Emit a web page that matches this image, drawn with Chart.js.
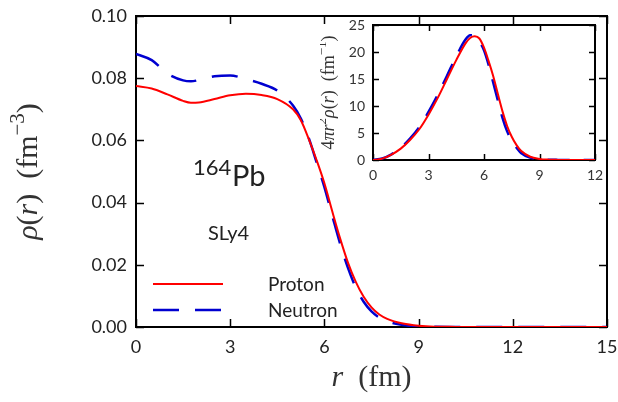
<!DOCTYPE html>
<html>
<head>
<meta charset="utf-8">
<script src="https://cdn.jsdelivr.net/npm/chart.js@4"></script>
<style>
body{margin:0;background:#fff;}
#wrap{position:relative;width:618px;height:402px;}
#main{position:absolute;left:0;top:0;}
#inset{position:absolute;left:320px;top:8px;}
</style>
</head>
<body>
<div id="wrap">
<canvas id="main" width="618" height="402"></canvas>
<canvas id="inset" width="290" height="190"></canvas>
</div>
<script>
// radial grid (fm) and densities
const rMain = [0,0.5,1,1.5,1.75,2,2.5,3,3.5,4,4.5,5,5.25,5.5,5.75,6,6.25,6.5,6.75,7,7.25,7.5,7.75,8,8.5,9,9.5,10,11,12,13,14,15];
const protonRho = [0.0775,0.0767,0.0748,0.0727,0.0721,0.0722,0.0733,0.0745,0.0750,0.0746,0.0733,0.0700,0.0665,0.0605,0.0537,0.0462,0.0372,0.0285,0.0207,0.0145,0.0097,0.0063,0.0040,0.0026,0.0011,0.0004,0.0001,0.00005,0,0,0,0,0];
const neutronRho = [0.0878,0.0858,0.0815,0.0793,0.0790,0.0794,0.0806,0.0809,0.0797,0.0782,0.0760,0.0712,0.0670,0.0608,0.0530,0.0450,0.0358,0.0268,0.0190,0.0127,0.0081,0.0050,0.0030,0.0018,0.0006,0.0002,0.00005,0,0,0,0,0,0];

// inset: 4 pi r^2 rho(r)
const rInset = [0,0.5,1,1.5,2,2.5,3,3.5,4,4.5,5,5.25,5.5,5.75,6,6.25,6.5,6.75,7,7.25,7.5,7.75,8,8.5,9,9.5,10,11,12];
const protonInset = [0,0.25,1.0,2.1,3.7,5.7,8.4,11.5,15.0,18.5,21.6,22.6,22.9,22.5,20.8,18.3,15.5,12.2,9.0,6.3,4.3,2.8,1.7,0.6,0.2,0.06,0.02,0,0];
const neutronInset = [0,0.27,1.05,2.25,3.95,6.1,8.9,12.1,15.6,19.2,22.3,23.1,22.9,21.9,20.3,17.6,14.3,11.0,7.8,5.3,3.6,2.3,1.3,0.45,0.15,0.05,0.02,0,0];

const seriesNames = ["Proton","Neutron"];
const nucleusMass = "164";
const nucleusName = "Pb";
const forceName = "SLy4";

// axis titles as [text, style] pieces: i = italic, n = upright, s = superscript
const xTitle = [["r","i"],["  (fm)","n"]];
const yTitle = [["ρ","i"],["(","n"],["r","i"],[")  (fm","n"],["−3","s"],[")","n"]];
const insetTitle = [["4","n"],["πr","i"],["2","s"],["ρ","i"],["(","n"],["r","i"],[")  (fm","n"],["−1","s"],[")","n"]];

const RED = "#ff0000";
const BLUE = "#0000d0";
const tickFont = "Lato";
const mathFont = "'Liberation Serif'";

function pts(xs, ys){
  return xs.map((x,i)=>({x:x,y:ys[i]}));
}

function segFont(style, size){
  if(style === "i") return "italic " + size + "px " + mathFont;
  if(style === "s") return Math.round(size*0.7) + "px " + mathFont;
  return size + "px " + mathFont;
}

// draws a math-like label centred on (cx, baseline cy), optionally rotated
function drawMath(ctx, segs, size, cx, cy, rot){
  ctx.save();
  let w = 0;
  segs.forEach(([t,s])=>{ ctx.font = segFont(s,size); w += ctx.measureText(t).width; });
  ctx.translate(cx, cy);
  ctx.rotate(rot);
  ctx.fillStyle = "#333";
  ctx.textBaseline = "alphabetic";
  let x = -w/2;
  segs.forEach(([t,s])=>{
    ctx.font = segFont(s,size);
    ctx.fillText(t, x, s === "s" ? -size*0.42 : 0);
    x += ctx.measureText(t).width;
  });
  ctx.restore();
}

function noPad(s){
  s.paddingLeft = 0; s.paddingRight = 0; s.paddingTop = 0; s.paddingBottom = 0;
}

// frame and inward ticks on all four sides
const frameTicks = {
  id:"frameTicks",
  beforeDatasetsDraw(chart, args, opts){
    const {ctx, chartArea:a, scales} = chart;
    const len = opts.len;
    ctx.save();
    ctx.strokeStyle = "#000";
    ctx.lineWidth = 1.5;
    ctx.beginPath();
    scales.x.ticks.forEach(t=>{
      const px = Math.round(scales.x.getPixelForValue(t.value)) + 0.5;
      ctx.moveTo(px, a.bottom); ctx.lineTo(px, a.bottom - len);
      ctx.moveTo(px, a.top); ctx.lineTo(px, a.top + len);
    });
    scales.y.ticks.forEach(t=>{
      const py = Math.round(scales.y.getPixelForValue(t.value)) + 0.5;
      ctx.moveTo(a.left, py); ctx.lineTo(a.left + len, py);
      ctx.moveTo(a.right, py); ctx.lineTo(a.right - len, py);
    });
    ctx.stroke();
    ctx.lineWidth = 2;
    ctx.strokeRect(a.left, a.top, a.right - a.left, a.bottom - a.top);
    ctx.restore();
  }
};

// nucleus label, force name, legend and axis titles of the main plot
const mainNotes = {
  id:"mainNotes",
  afterDraw(chart){
    const {ctx, chartArea:a} = chart;
    ctx.save();
    ctx.fillStyle = "#222";
    ctx.textBaseline = "alphabetic";
    ctx.font = "22px " + tickFont;
    ctx.fillText(nucleusMass, 193, 175);
    ctx.font = "29px " + tickFont;
    ctx.fillText(nucleusName, 232, 186);
    ctx.font = "20px " + tickFont;
    ctx.fillText(forceName, 208, 240);

    const rows = [[284, 0], [310, 1]];
    rows.forEach(([y, i])=>{
      const ds = chart.data.datasets[i];
      ctx.strokeStyle = ds.borderColor;
      ctx.lineWidth = ds.borderWidth;
      ctx.setLineDash(ds.borderDash || []);
      ctx.beginPath();
      ctx.moveTo(153, y);
      ctx.lineTo(223, y);
      ctx.stroke();
      ctx.setLineDash([]);
      ctx.fillStyle = "#222";
      ctx.font = "19px " + tickFont;
      ctx.textBaseline = "middle";
      ctx.fillText(ds.label, 268, y + 1);
    });
    ctx.restore();

    drawMath(ctx, xTitle, 30, (a.left + a.right)/2, 386, 0);
    drawMath(ctx, yTitle, 30, 37, (a.top + a.bottom)/2, -Math.PI/2);
  }
};

const insetNotes = {
  id:"insetNotes",
  afterDraw(chart){
    const a = chart.chartArea;
    drawMath(chart.ctx, insetTitle, 18, 14, (a.top + a.bottom)/2, -Math.PI/2);
  }
};

new Chart(document.getElementById("main"), {
  type:"line",
  data:{
    datasets:[
      {label:seriesNames[0], data:pts(rMain, protonRho), borderColor:RED, borderWidth:2, pointRadius:0, cubicInterpolationMode:"monotone"},
      {label:seriesNames[1], data:pts(rMain, neutronRho), borderColor:BLUE, borderWidth:2.5, borderDash:[26,16], pointRadius:0, cubicInterpolationMode:"monotone"}
    ]
  },
  options:{
    responsive:false,
    animation:false,
    events:[],
    layout:{padding:{top:16, right:11, left:0, bottom:0}},
    plugins:{
      legend:{display:false},
      tooltip:{enabled:false},
      frameTicks:{len:8}
    },
    scales:{
      x:{
        type:"linear", min:0, max:15,
        grid:{display:false, drawTicks:false},
        border:{display:false},
        ticks:{stepSize:3, padding:9, color:"#222", font:{family:tickFont, size:18}},
        afterFit(s){ s.height = 75; noPad(s); }
      },
      y:{
        type:"linear", min:0, max:0.1,
        grid:{display:false, drawTicks:false},
        border:{display:false},
        ticks:{stepSize:0.02, padding:9, color:"#222", font:{family:tickFont, size:18}, callback:v=>v.toFixed(2)},
        afterFit(s){ s.width = 136; noPad(s); }
      }
    }
  },
  plugins:[frameTicks, mainNotes]
});

new Chart(document.getElementById("inset"), {
  type:"line",
  data:{
    datasets:[
      {label:seriesNames[0], data:pts(rInset, protonInset), borderColor:RED, borderWidth:2, pointRadius:0, cubicInterpolationMode:"monotone"},
      {label:seriesNames[1], data:pts(rInset, neutronInset), borderColor:BLUE, borderWidth:2.5, borderDash:[22,14], pointRadius:0, cubicInterpolationMode:"monotone"}
    ]
  },
  options:{
    responsive:false,
    animation:false,
    events:[],
    layout:{padding:{top:17, right:15, left:0, bottom:0}},
    plugins:{
      legend:{display:false},
      tooltip:{enabled:false},
      frameTicks:{len:6}
    },
    scales:{
      x:{
        type:"linear", min:0, max:12,
        grid:{display:false, drawTicks:false},
        border:{display:false},
        ticks:{stepSize:3, padding:7, color:"#333", font:{family:tickFont, size:14}},
        afterFit(s){ s.height = 38; noPad(s); }
      },
      y:{
        type:"linear", min:0, max:25,
        grid:{display:false, drawTicks:false},
        border:{display:false},
        ticks:{stepSize:5, padding:8, color:"#333", font:{family:tickFont, size:14}},
        afterFit(s){ s.width = 53; noPad(s); }
      }
    }
  },
  plugins:[frameTicks, insetNotes]
});
</script>
</body>
</html>
